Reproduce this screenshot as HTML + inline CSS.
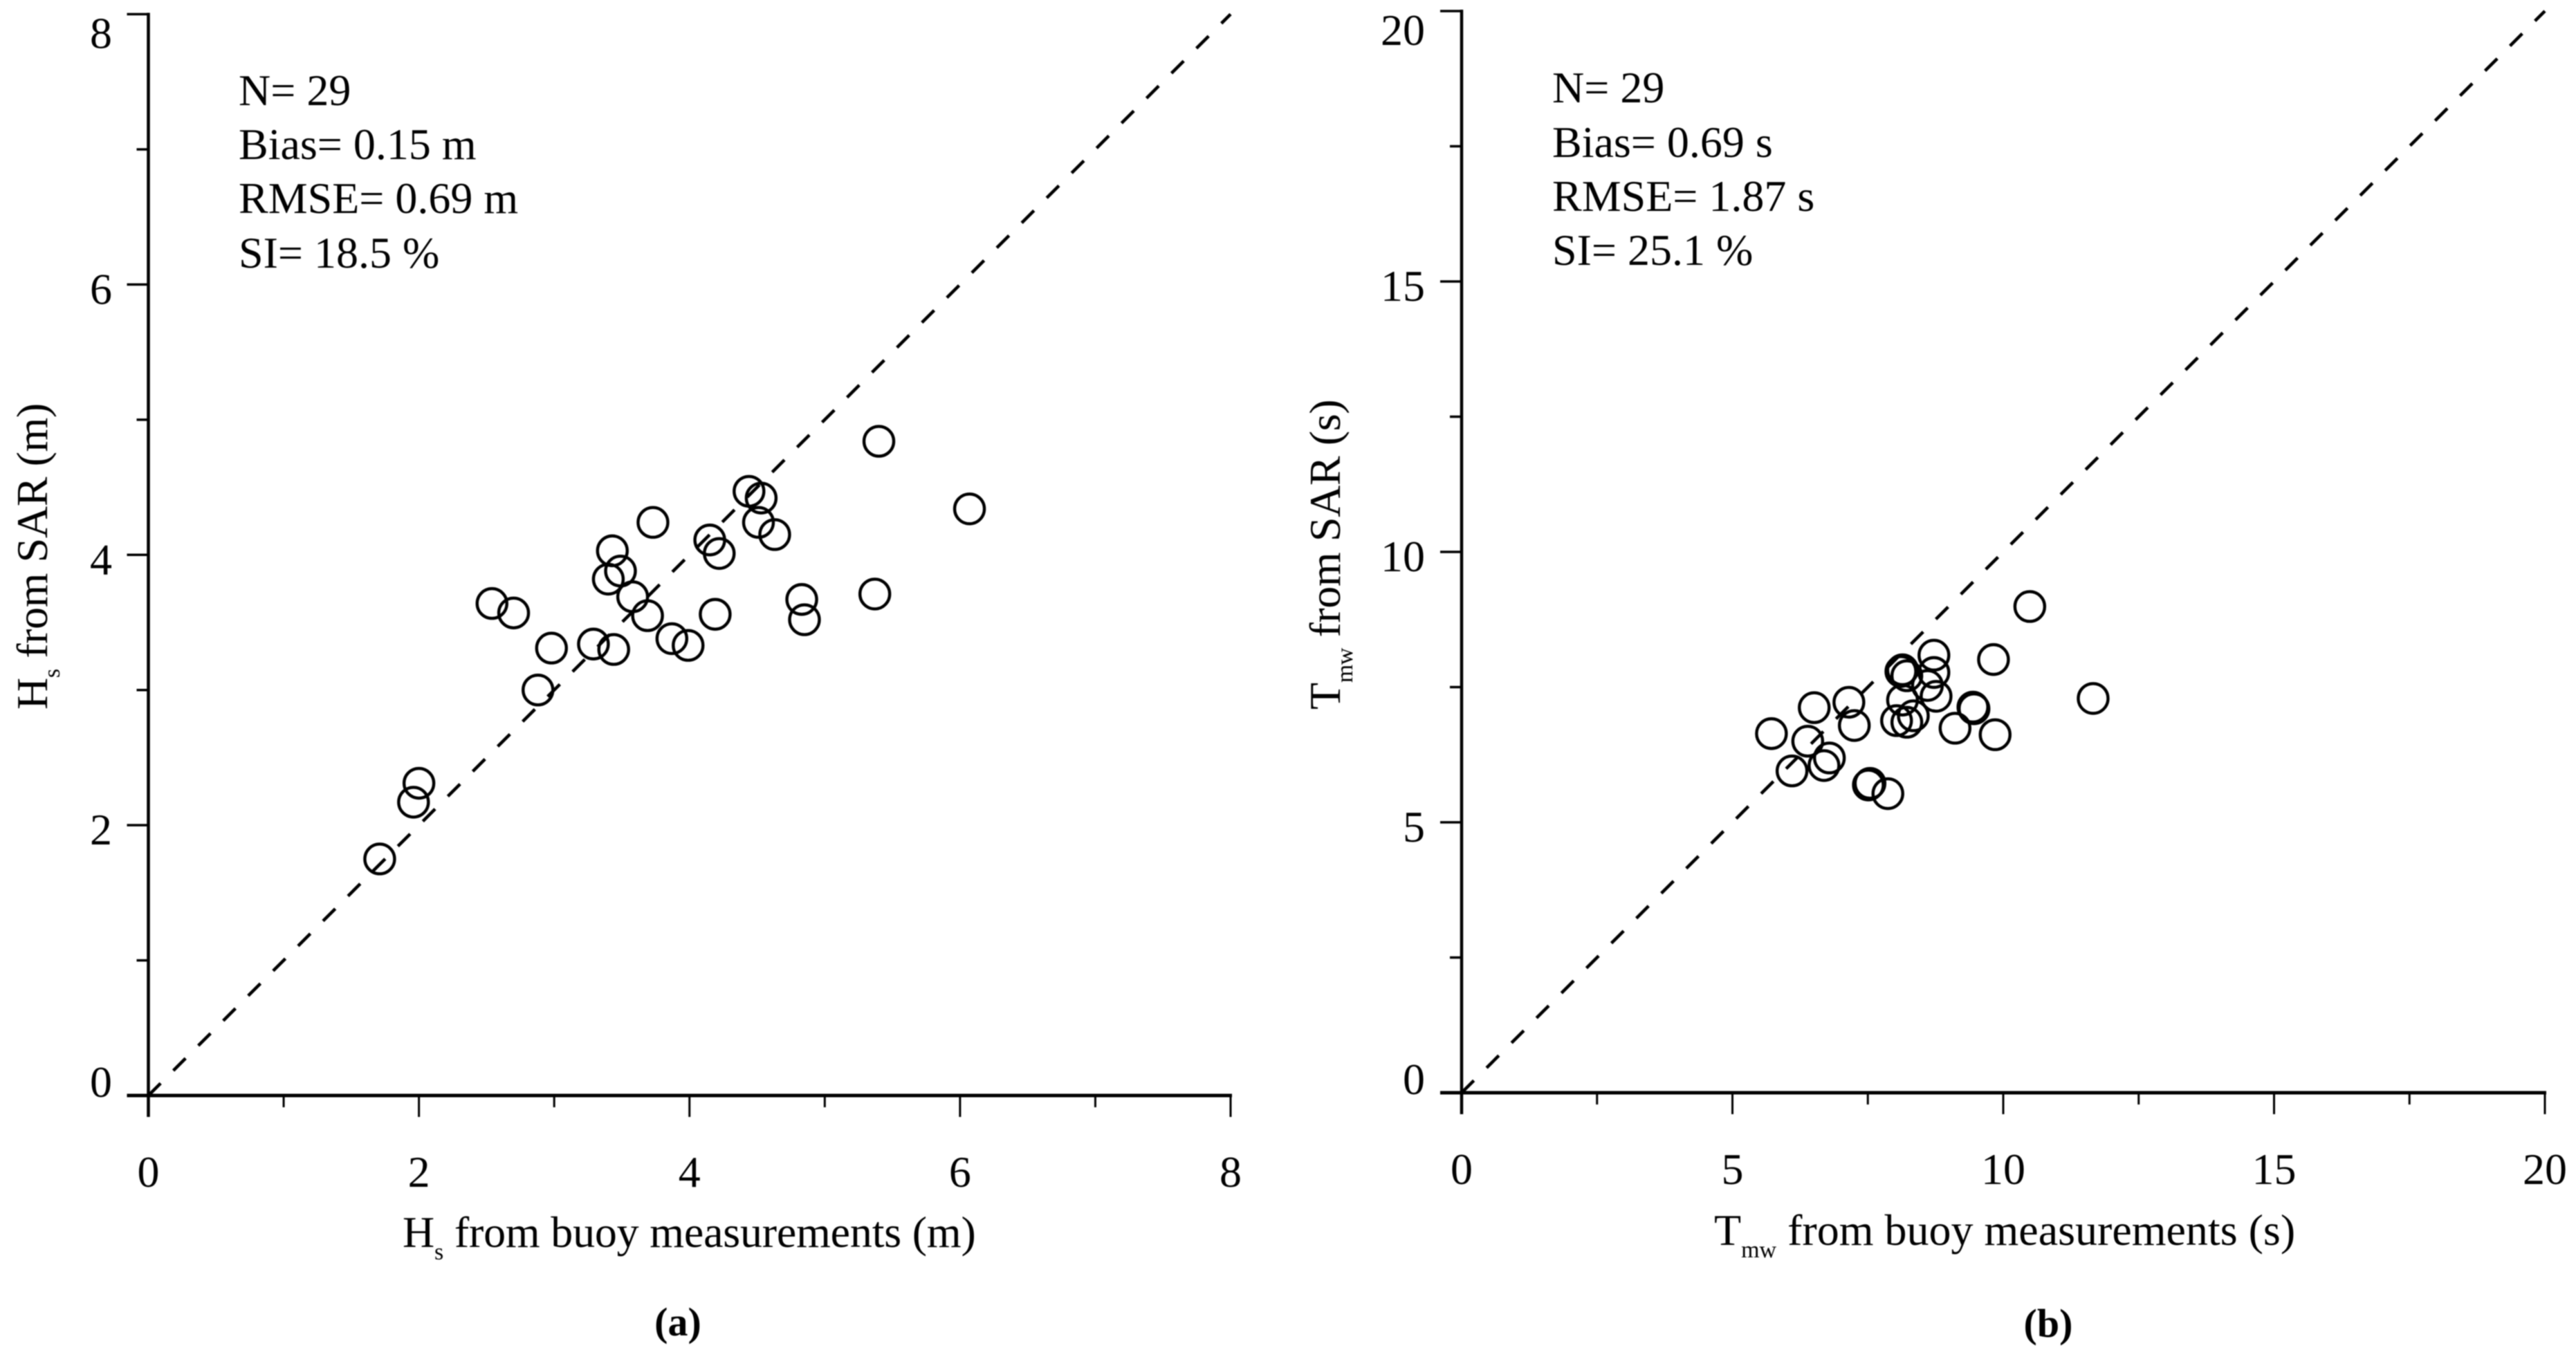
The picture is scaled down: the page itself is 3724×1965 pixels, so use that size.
<!DOCTYPE html>
<html lang="en">
<head>
<meta charset="utf-8">
<title>SAR versus buoy scatter plots</title>
<style>
  html, body { margin: 0; padding: 0; background: #fff; }
  body { width: 3724px; height: 1965px; overflow: hidden; }
  svg { display: block; filter: blur(0.7px); }
  text { font-family: "Liberation Serif", serif; font-size: 64px; fill: #000; }
</style>
</head>
<body>
<svg id="figure" xmlns="http://www.w3.org/2000/svg" width="3724" height="1965" viewBox="0 0 3724 1965">
  <rect x="0" y="0" width="3724" height="1965" fill="#ffffff"/>
  <g id="panel-a">
    <text x="345" y="152">N= 29</text>
    <text x="345" y="230">Bias= 0.15 m</text>
    <text x="345" y="308">RMSE= 0.69 m</text>
    <text x="345" y="387">SI= 18.5 %</text>
    <text x="582" y="1803" letter-spacing="-0.2">H<tspan font-size="34" dy="18">s</tspan><tspan dy="-18"> from buoy measurements (m)</tspan></text>
    <text transform="translate(68 1026) rotate(-90)" x="0" y="0" letter-spacing="-0.4">H<tspan font-size="34" dy="18">s</tspan><tspan dy="-18"> from SAR (m)</tspan></text>
    <text x="980" y="1931" text-anchor="middle" font-weight="700" style="font-size:58px">(a)</text>
  </g>
  <g id="panel-b">
    <text x="2244" y="148">N= 29</text>
    <text x="2244" y="227">Bias= 0.69 s</text>
    <text x="2244" y="305">RMSE= 1.87 s</text>
    <text x="2244" y="383">SI= 25.1 %</text>
    <text x="2478" y="1800">T<tspan font-size="34" dy="18">mw</tspan><tspan dy="-18"> from buoy measurements (s)</tspan></text>
    <text transform="translate(1937 1026) rotate(-90)" x="0" y="0" letter-spacing="-0.4">T<tspan font-size="34" dy="18">mw</tspan><tspan dy="-18"> from SAR (s)</tspan></text>
    <text x="2961" y="1933" text-anchor="middle" font-weight="700" style="font-size:58px">(b)</text>
  </g>
</svg>
<script>
// Panel (a) data: significant wave height (m)
const hsBuoy = [1.71,1.96,2.00,2.88,2.98,3.29,3.44,2.70,2.54,3.40,3.43,3.49,3.58,3.69,3.73,3.87,3.99,4.15,4.22,4.19,4.44,4.53,4.51,4.63,4.83,4.85,5.37,5.40,6.07];
const hsSar = [1.75,2.17,2.31,3.00,3.31,3.34,3.30,3.57,3.64,3.82,4.03,3.88,3.69,3.55,4.24,3.38,3.33,4.11,4.01,3.56,4.47,4.42,4.24,4.15,3.67,3.52,3.71,4.84,4.34];
const hsMajorTicks = [0,2,4,6,8];
const hsMinorTicks = [1,3,5,7];

// Panel (b) data: mean wave period (s)
const tmwBuoy = [10.49,9.82,11.66,8.72,8.72,8.60,8.76,9.44,9.46,9.11,9.85,5.72,6.51,7.15,7.25,6.39,6.10,6.69,6.79,7.51,7.54,7.87,8.11,8.14,8.22,8.14,8.03,8.22,8.34];
const tmwSar = [8.99,8.01,7.29,8.09,7.77,7.53,7.33,7.13,7.10,6.74,6.62,6.64,7.12,7.22,6.79,6.50,5.95,6.05,6.19,5.69,5.72,5.53,7.79,7.82,7.71,7.26,6.88,6.85,6.97];
const tmwMajorTicks = [0,5,10,15,20];
const tmwMinorTicks = [2.5,7.5,12.5,17.5];

const SVG_NS = 'http://www.w3.org/2000/svg';

function makeLine(parent, x1, y1, x2, y2, width, name) {
  const el = document.createElementNS(SVG_NS, 'line');
  el.setAttribute('x1', x1);
  el.setAttribute('y1', y1);
  el.setAttribute('x2', x2);
  el.setAttribute('y2', y2);
  el.setAttribute('stroke', '#000');
  el.setAttribute('stroke-width', width);
  
  
  parent.appendChild(el);
  return el;
}

function makeLabel(parent, x, y, anchor, str, name) {
  const el = document.createElementNS(SVG_NS, 'text');
  el.setAttribute('x', x);
  el.setAttribute('y', y);
  el.setAttribute('text-anchor', anchor);
  el.textContent = str;
  
  
  parent.appendChild(el);
  return el;
}

function drawPanel(cfg) {
  const g = document.getElementById(cfg.id);
  const xs = v => cfg.x0 + (v / cfg.max) * (cfg.x1 - cfg.x0);
  const ys = v => cfg.y0 + (v / cfg.max) * (cfg.y1 - cfg.y0);

  // axes
  makeLine(g, xs(0), ys(cfg.max) - 2, xs(0), cfg.y0 + cfg.majorLen, 4.5, 'y-axis-line-' + cfg.tag);
  makeLine(g, cfg.x0 - cfg.majorLen, ys(0), xs(cfg.max) + 2, ys(0), 5, 'x-axis-line-' + cfg.tag);

  // ticks and labels
  cfg.major.forEach(v => {
    makeLine(g, xs(v), ys(0), xs(v), ys(0) + cfg.majorLen, 3, 'x-major-tick-' + cfg.tag + '-' + v);
    makeLine(g, xs(0), ys(v), xs(0) - cfg.majorLen, ys(v), 3.5, 'y-major-tick-' + cfg.tag + '-' + v);
    makeLabel(g, xs(v), cfg.xLabelY, 'middle', String(v), 'x-tick-label-' + cfg.tag + '-' + v);
    let off = 28;
    if (v === cfg.max) off = 49;
    if (v === 0) off = 2;
    makeLabel(g, cfg.yLabelX, ys(v) + off, 'end', String(v), 'y-tick-label-' + cfg.tag + '-' + v);
  });
  cfg.minor.forEach(v => {
    makeLine(g, xs(v), ys(0), xs(v), ys(0) + cfg.minorLen, 3, 'x-minor-tick-' + cfg.tag + '-' + v);
    makeLine(g, xs(0), ys(v), xs(0) - cfg.minorLen, ys(v), 3.5, 'y-minor-tick-' + cfg.tag + '-' + v);
  });

  // 1:1 reference line
  const ref = makeLine(g, xs(0), ys(0), xs(cfg.max), ys(cfg.max), 4.6, 'one-to-one-line-' + cfg.tag);
  ref.setAttribute('stroke-dasharray', '25 26');

  // points
  cfg.px.forEach((v, i) => {
    const c = document.createElementNS(SVG_NS, 'circle');
    c.setAttribute('cx', xs(v));
    c.setAttribute('cy', ys(cfg.py[i]));
    c.setAttribute('r', 21.5);
    c.setAttribute('fill', 'none');
    c.setAttribute('stroke', '#000');
    c.setAttribute('stroke-width', 4.4);
    
    
    g.appendChild(c);
  });
}

drawPanel({ id: 'panel-a', tag: 'a', max: 8, x0: 214.5, x1: 1779, y0: 1584, y1: 20.5,
  major: hsMajorTicks, minor: hsMinorTicks, px: hsBuoy, py: hsSar,
  majorLen: 31, minorLen: 17, xLabelY: 1716, yLabelX: 162 });
drawPanel({ id: 'panel-b', tag: 'b', max: 20, x0: 2113, x1: 3679, y0: 1580, y1: 16,
  major: tmwMajorTicks, minor: tmwMinorTicks, px: tmwBuoy, py: tmwSar,
  majorLen: 31, minorLen: 17, xLabelY: 1712, yLabelX: 2060 });
</script>
</body>
</html>
